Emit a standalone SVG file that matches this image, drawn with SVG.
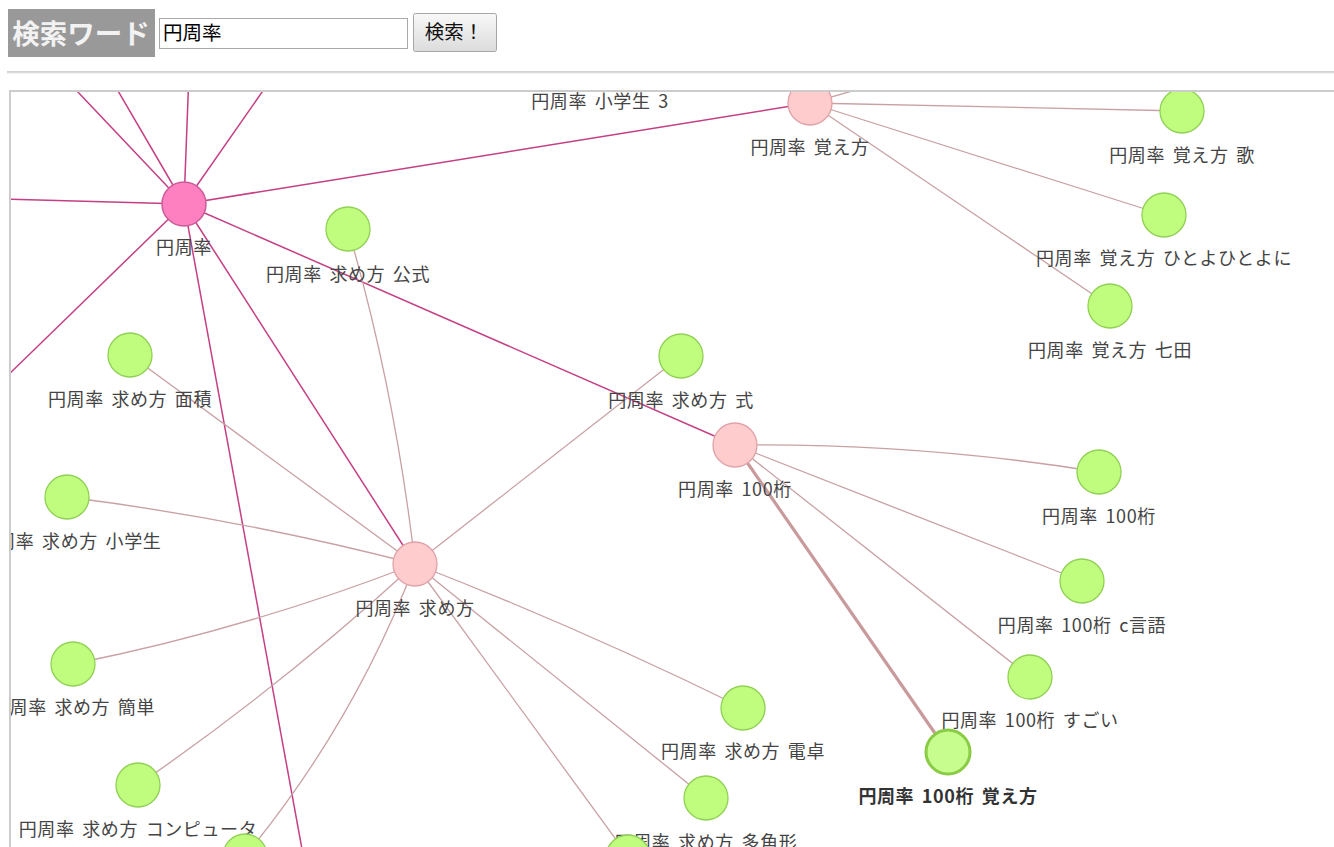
<svg xmlns="http://www.w3.org/2000/svg" width="1334" height="847" viewBox="0 0 1334 847">
<defs>
<style>
.e1{fill:none;stroke:#c43f83;stroke-width:1.5}
.e2{fill:none;stroke:#c9a0a3;stroke-width:1.3}
.e3{fill:none;stroke:#c89a9c;stroke-width:3.2}
.leaf{fill:#c0fd7e;stroke:#90d055;stroke-width:1.3}
.hub{fill:#ffcccd;stroke:#e0a2a8;stroke-width:1.3}
.root{fill:#ff80c0;stroke:#cc5c99;stroke-width:1.5}
.sel{fill:#c6fd8e;stroke:#88cc44;stroke-width:3}
.lbl{font-family:"Noto Sans CJK JP","Noto Sans",sans-serif;font-size:18px;fill:#444;text-anchor:middle;letter-spacing:0.6px;word-spacing:3px}
.bold{font-weight:bold;fill:#333}
.ui{font-family:"Noto Sans CJK JP","Noto Sans",sans-serif}
</style>
<linearGradient id="btn" x1="0" y1="0" x2="0" y2="1">
<stop offset="0" stop-color="#f8f8f8"/>
<stop offset="1" stop-color="#dcdcdc"/>
</linearGradient>
<clipPath id="clip"><rect x="11" y="92" width="1323" height="755"/></clipPath>
</defs>

<g id="header">
<rect x="8" y="9" width="147" height="48" fill="#999999"/>
<text class="ui" x="81" y="44" font-size="27.5" font-weight="bold" fill="#f2f2f2" text-anchor="middle">検索ワード</text>
<rect x="159.5" y="18.5" width="248" height="30" fill="#fff" stroke="#a9a9a9" stroke-width="1"/>
<text class="ui" x="163" y="40" font-size="19.5" fill="#000">円周率</text>
<rect x="413.5" y="13.5" width="83" height="38" rx="2" fill="url(#btn)" stroke="#a6a6a6" stroke-width="1"/>
<text class="ui" x="454" y="39" font-size="19.5" fill="#111" text-anchor="middle">検索！</text>
<line x1="7" y1="72" x2="1334" y2="72" stroke="#a6a6a6" stroke-width="1"/>
<line x1="7" y1="73" x2="1334" y2="73" stroke="#e4e4e4" stroke-width="1"/>
</g>

<rect id="frame" x="10" y="91" width="1330" height="770" fill="#fff" stroke="#cccccc" stroke-width="2"/>

<g clip-path="url(#clip)">
<g id="connectors">
<path class="e1" d="M184,204 L58,71"/>
<path class="e1" d="M184,204 L107,72"/>
<path class="e1" d="M184,204 L189,72"/>
<path class="e1" d="M184,204 L276,72"/>
<path class="e1" d="M184,204 L0,199"/>
<path class="e1" d="M184,204 L0,383"/>
<path class="e1" d="M184,204 L304,860"/>
<path class="e1" d="M184,204 L810,103"/>
<path class="e1" d="M184,204 L735,445"/>
<path class="e1" d="M184,204 L415,564"/>

<path class="e2" d="M810,103 L870,86"/>
<path class="e2" d="M810,103 L1182,111"/>
<path class="e2" d="M810,103 L1164,215"/>
<path class="e2" d="M810,103 L1110,306"/>

<path class="e2" d="M415,564 Q395,390 348,229"/>
<path class="e2" d="M415,564 L130,355"/>
<path class="e2" d="M415,564 Q241,519 67,497"/>
<path class="e2" d="M415,564 L681,356"/>
<path class="e2" d="M415,564 Q248,629 73,664"/>
<path class="e2" d="M415,564 Q283,685 138,785"/>
<path class="e2" d="M415,564 Q354,724 245,856"/>
<path class="e2" d="M415,564 Q580,628 743,708"/>
<path class="e2" d="M415,564 L706,798"/>
<path class="e2" d="M415,564 L628,856"/>

<path class="e2" d="M735,445 Q920,443 1099,472"/>
<path class="e2" d="M735,445 L1082,581"/>
<path class="e2" d="M735,445 L1030,677"/>
<path class="e3" d="M735,445 L948,752"/>
</g>

<g id="n-shougakusei3"><text class="lbl" x="600" y="108">円周率 小学生 3</text></g>

<g id="n-root"><circle class="root" cx="184" cy="204" r="22"/><text class="lbl" x="184" y="254">円周率</text></g>
<g id="n-oboekata"><circle class="hub" cx="810" cy="103" r="22"/><text class="lbl" x="810" y="154">円周率 覚え方</text></g>
<g id="n-uta"><circle class="leaf" cx="1182" cy="111" r="22"/><text class="lbl" x="1182" y="162">円周率 覚え方 歌</text></g>
<g id="n-hitoyo"><circle class="leaf" cx="1164" cy="215" r="22"/><text class="lbl" x="1164" y="265">円周率 覚え方 ひとよひとよに</text></g>
<g id="n-shichida"><circle class="leaf" cx="1110" cy="306" r="22"/><text class="lbl" x="1110" y="357">円周率 覚え方 七田</text></g>
<g id="n-koushiki"><circle class="leaf" cx="348" cy="229" r="22"/><text class="lbl" x="348" y="281">円周率 求め方 公式</text></g>
<g id="n-menseki"><circle class="leaf" cx="130" cy="355" r="22"/><text class="lbl" x="130" y="406">円周率 求め方 面積</text></g>
<g id="n-shiki"><circle class="leaf" cx="681" cy="356" r="22"/><text class="lbl" x="681" y="407">円周率 求め方 式</text></g>
<g id="n-100"><circle class="hub" cx="735" cy="445" r="22"/><text class="lbl" x="735" y="496">円周率 100桁</text></g>
<g id="n-100leaf"><circle class="leaf" cx="1099" cy="472" r="22"/><text class="lbl" x="1099" y="523">円周率 100桁</text></g>
<g id="n-shougakusei"><circle class="leaf" cx="67" cy="497" r="22"/><text class="lbl" x="70" y="548">円周率 求め方 小学生</text></g>
<g id="n-motomekata"><circle class="hub" cx="415" cy="564" r="22"/><text class="lbl" x="415" y="615">円周率 求め方</text></g>
<g id="n-clang"><circle class="leaf" cx="1082" cy="581" r="22"/><text class="lbl" x="1082" y="632">円周率 100桁 c言語</text></g>
<g id="n-kantan"><circle class="leaf" cx="73" cy="664" r="22"/><text class="lbl" x="73" y="714">円周率 求め方 簡単</text></g>
<g id="n-sugoi"><circle class="leaf" cx="1030" cy="677" r="22"/><text class="lbl" x="1030" y="727">円周率 100桁 すごい</text></g>
<g id="n-dentaku"><circle class="leaf" cx="743" cy="708" r="22"/><text class="lbl" x="743" y="758">円周率 求め方 電卓</text></g>
<g id="n-100oboe"><circle class="sel" cx="948" cy="752" r="22"/><text class="lbl bold" x="948" y="803">円周率 100桁 覚え方</text></g>
<g id="n-computer"><circle class="leaf" cx="138" cy="785" r="22"/><text class="lbl" x="138" y="836">円周率 求め方 コンピュータ</text></g>
<g id="n-takakukei"><circle class="leaf" cx="706" cy="798" r="22"/><text class="lbl" x="706" y="849">円周率 求め方 多角形</text></g>
<g id="n-bottom1"><circle class="leaf" cx="245" cy="856" r="22"/></g>
<g id="n-bottom2"><circle class="leaf" cx="628" cy="857" r="22"/></g>
</g>
</svg>
